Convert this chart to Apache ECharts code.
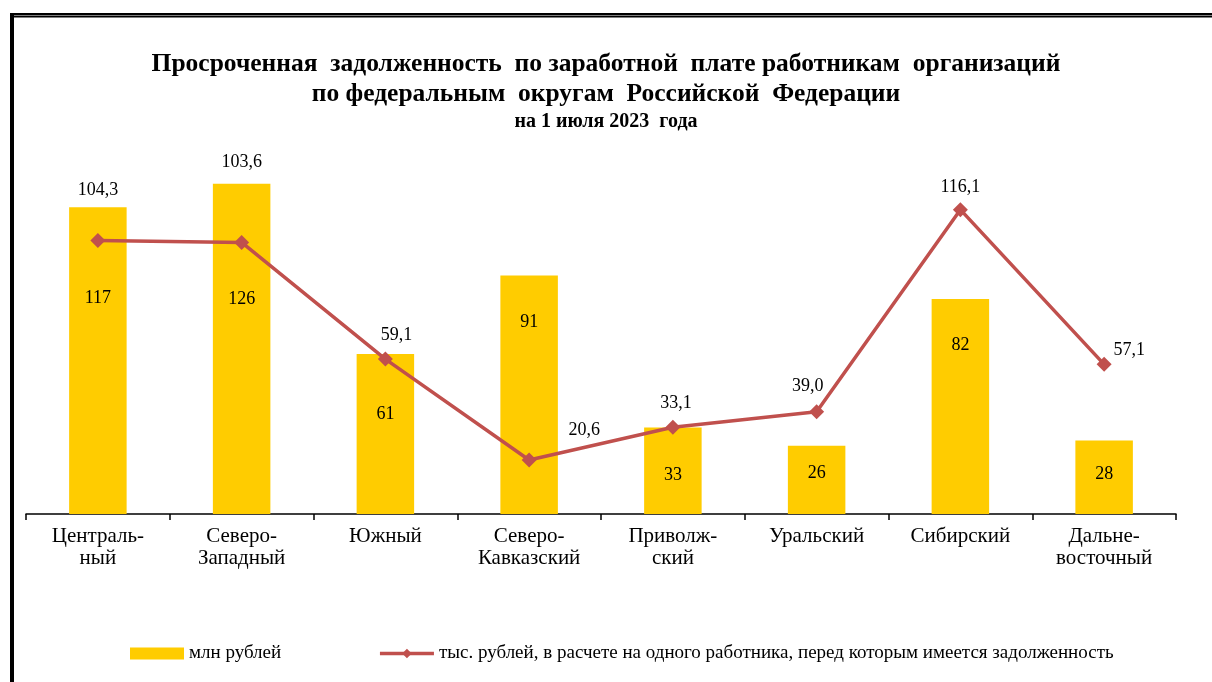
<!DOCTYPE html>
<html>
<head>
<meta charset="utf-8">
<script src="https://cdn.jsdelivr.net/npm/echarts@6/dist/echarts.min.js"></script>
<style>
  html, body { margin: 0; padding: 0; background: #fff; }
  #chart { width: 1212px; height: 682px; }
</style>
</head>
<body>
<div id="chart"></div>
<script>
// округа
const districts = ['Централь-\nный', 'Северо-\nЗападный', 'Южный', 'Северо-\nКавказский',
  'Приволж-\nский', 'Уральский', 'Сибирский', 'Дальне-\nвосточный'];
// млн рублей
const debtMln = [117, 126, 61, 91, 33, 26, 82, 28];
// тыс. рублей на одного работника
const debtPerWorker = [104.3, 103.6, 59.1, 20.6, 33.1, 39.0, 116.1, 57.1];

// сдвиги подписей (как в исходнике, подписи стоят вручную)
const barLabelShift = [-62, -50, -20, -72, 5, -7, -61, -3];
const lineLabelShift = [[0, -50], [0, -80], [11, -24], [55, -30], [3, -24], [-9, -25], [0, -22], [25, -14]];

const serif = 'Liberation Serif';
const fmt = v => v.toFixed(1).replace('.', ',');

let myChart = echarts.init(document.getElementById('chart'));

let option = {
  animation: false,
  textStyle: { fontFamily: serif, color: '#000' },
  title: {
    text: 'Просроченная  задолженность  по заработной  плате работникам  организаций\nпо федеральным  округам  Российской  Федерации',
    subtext: 'на 1 июля 2023  года',
    left: 'center',
    top: 49,
    padding: [0, 0, 0, 18],
    itemGap: 3,
    textStyle: { fontFamily: serif, fontWeight: 'bold', fontSize: 25.5, lineHeight: 30, color: '#000' },
    subtextStyle: { fontFamily: serif, fontWeight: 'bold', fontSize: 20, lineHeight: 20, color: '#000' }
  },
  graphic: [
    { type: 'rect', shape: { x: 10, y: 13, width: 1202, height: 2.5 }, style: { fill: '#000' } },
    { type: 'rect', shape: { x: 10, y: 16, width: 1202, height: 1.5 }, style: { fill: '#000' } },
    { type: 'rect', shape: { x: 10, y: 13, width: 4, height: 669 }, style: { fill: '#000' } }
  ],
  legend: {
    left: 130,
    top: 644,
    padding: 0,
    itemWidth: 54,
    itemHeight: 12,
    itemGap: 97,
    textStyle: { fontFamily: serif, fontSize: 19, color: '#000' },
    data: [
      { name: 'млн рублей', icon: 'rect' },
      { name: 'тыс. рублей, в расчете на одного работника, перед которым имеется задолженность',
        lineStyle: { width: 3.5 } }
    ]
  },
  grid: { left: 26, right: 36, top: 147, bottom: 168 },
  xAxis: {
    type: 'category',
    data: districts,
    axisLine: { lineStyle: { color: '#000', width: 1.5 } },
    axisTick: { show: true, length: 6, lineStyle: { color: '#000', width: 1.5 } },
    axisLabel: { interval: 0, fontFamily: serif, fontSize: 21, lineHeight: 22, color: '#000', margin: 11 }
  },
  yAxis: {
    type: 'value',
    min: 0,
    max: 140,
    show: false,
    splitLine: { show: false }
  },
  series: [{
    name: 'млн рублей',
    type: 'bar',
    barWidth: '40%',
    itemStyle: { color: '#FFCC00' },
    label: { show: true, position: 'inside', fontFamily: serif, fontSize: 18, color: '#000' },
    data: debtMln.map((v, i) => ({ value: v, label: { offset: [0, barLabelShift[i]] } }))
  }, {
    name: 'тыс. рублей, в расчете на одного работника, перед которым имеется задолженность',
    type: 'line',
    symbol: 'diamond',
    symbolSize: 15,
    z: 5,
    lineStyle: { color: '#C0504D', width: 3.5 },
    itemStyle: { color: '#C0504D' },
    label: {
      show: true,
      position: 'inside',
      fontFamily: serif,
      fontSize: 18,
      color: '#000',
      formatter: p => fmt(p.value)
    },
    data: debtPerWorker.map((v, i) => ({ value: v, label: { offset: lineLabelShift[i] } }))
  }]
};

myChart.setOption(option);
</script>
</body>
</html>
